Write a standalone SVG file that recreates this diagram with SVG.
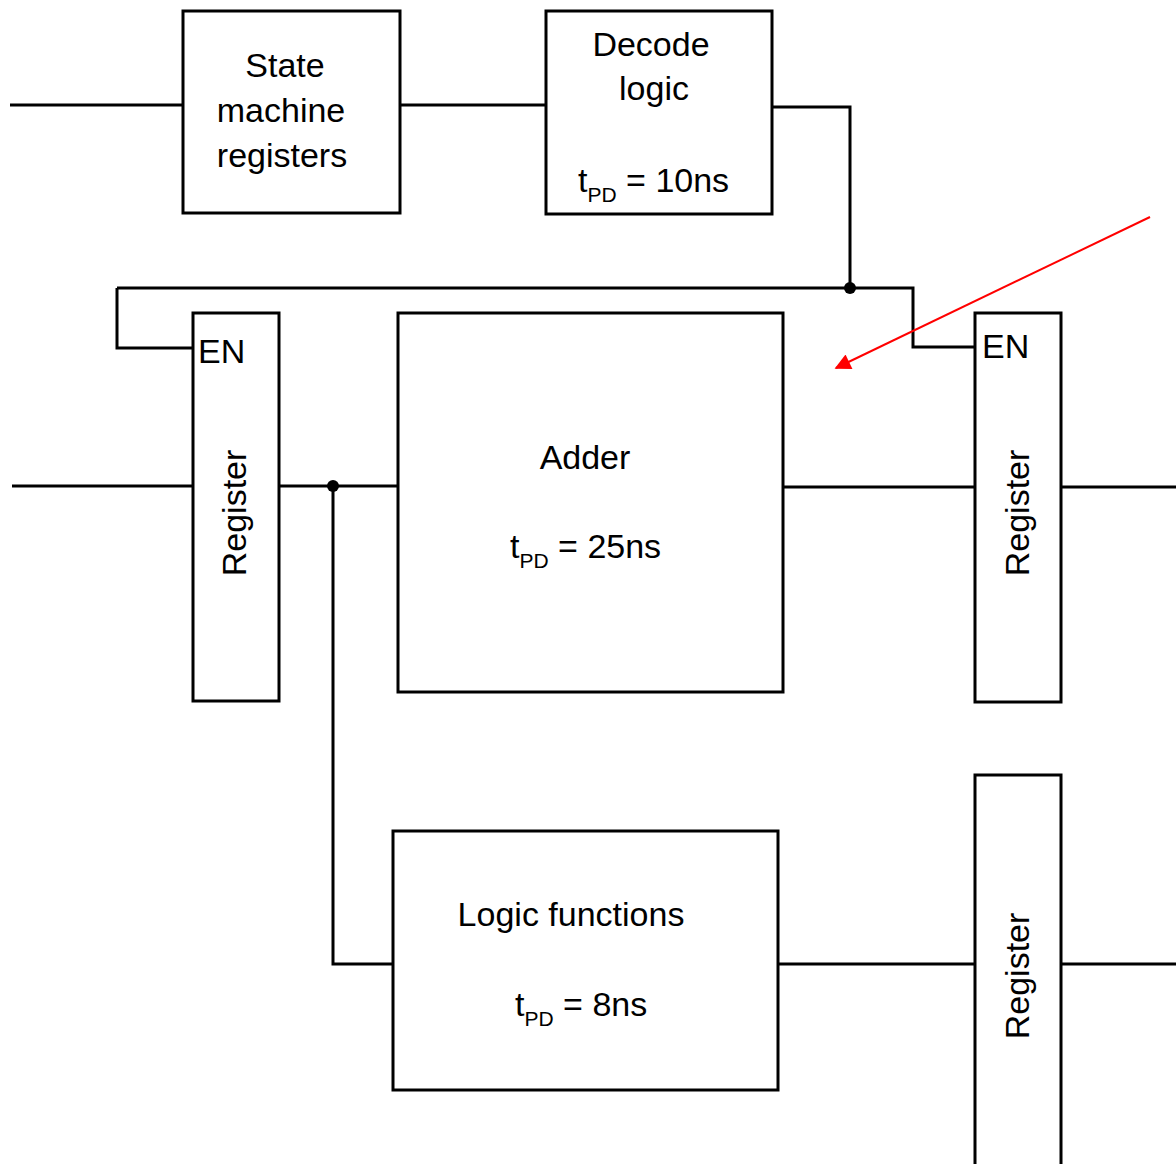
<svg xmlns="http://www.w3.org/2000/svg" width="1176" height="1164" viewBox="0 0 1176 1164">
<style>
.box{fill:#fff;stroke:#000;stroke-width:3}
.w{fill:none;stroke:#000;stroke-width:3}
.t{font-family:"Liberation Sans",Arial,sans-serif;font-size:34px;fill:#000}
.m{text-anchor:middle}
.s{font-size:21px}
</style>
<defs>
<marker id="ah2" viewBox="0 0 10 10" refX="9" refY="5" markerWidth="18" markerHeight="16" markerUnits="userSpaceOnUse" orient="auto">
<path d="M0,0 L10,5 L0,10 z" fill="#f00"/>
</marker>
</defs>
<rect width="1176" height="1164" fill="#fff"/>
<g id="connectors">
<path class="w" d="M10,105 H183"/>
<path class="w" d="M400,105 H546"/>
<path class="w" d="M772,107 H850 V288"/>
<path class="w" d="M117,288 H913 V347 H975"/>
<path class="w" d="M117,288 V348 H193"/>
<path class="w" d="M12,486 H193"/>
<path class="w" d="M279,486 H398"/>
<path class="w" d="M333,486 V964 H393"/>
<path class="w" d="M783,487 H975"/>
<path class="w" d="M1061,487 H1176"/>
<path class="w" d="M778,964 H975"/>
<path class="w" d="M1061,964 H1176"/>
<circle cx="850" cy="288" r="6" fill="#000"/>
<circle cx="333" cy="486" r="6" fill="#000"/>
</g>
<g id="state-machine">
<rect class="box" x="183" y="11" width="217" height="202"/>
<text class="t m" x="285" y="77">State</text>
<text class="t m" x="281" y="122">machine</text>
<text class="t m" x="282" y="167">registers</text>
</g>
<g id="decode">
<rect class="box" x="546" y="11" width="226" height="203"/>
<text class="t m" x="651" y="56">Decode</text>
<text class="t m" x="654" y="100">logic</text>
<text class="t" x="578" y="192">t<tspan class="s" dy="10">PD</tspan><tspan dy="-10"> = 10ns</tspan></text>
</g>
<g id="reg-left">
<rect class="box" x="193" y="313" width="86" height="388"/>
<text class="t" x="198" y="363">EN</text>
<text class="t m" transform="translate(246,513) rotate(-90)">Register</text>
</g>
<g id="adder">
<rect class="box" x="398" y="313" width="385" height="379"/>
<text class="t m" x="585" y="469">Adder</text>
<text class="t" x="510" y="558">t<tspan class="s" dy="10">PD</tspan><tspan dy="-10"> = 25ns</tspan></text>
</g>
<g id="reg-right">
<rect class="box" x="975" y="313" width="86" height="389"/>
<text class="t" x="982" y="358">EN</text>
<text class="t m" transform="translate(1029,513) rotate(-90)">Register</text>
</g>
<g id="logic">
<rect class="box" x="393" y="831" width="385" height="259"/>
<text class="t m" x="571" y="926">Logic functions</text>
<text class="t" x="515" y="1016">t<tspan class="s" dy="10">PD</tspan><tspan dy="-10"> = 8ns</tspan></text>
</g>
<g id="reg-bottom">
<rect class="box" x="975" y="775" width="86" height="395"/>
<text class="t m" transform="translate(1029,976) rotate(-90)">Register</text>
</g>
<g id="annotation">
<line x1="1150" y1="217" x2="836" y2="368" stroke="#f00" stroke-width="2" marker-end="url(#ah2)"/>
</g>
</svg>
